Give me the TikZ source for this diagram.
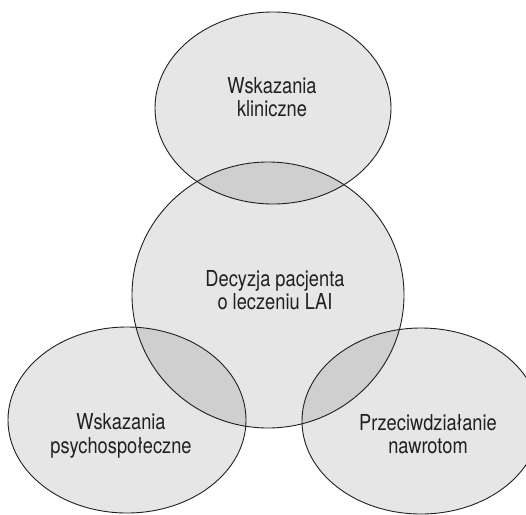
\documentclass[tikz,border=0pt]{standalone}
\usepackage{fontspec}
\setmainfont{TeX Gyre Heros}
\newfontfamily\labelfont[FakeStretch=0.83]{TeX Gyre Heros}
\usetikzlibrary{shapes.geometric,positioning}
\definecolor{txtgray}{HTML}{231F20}

\begin{document}
\begin{tikzpicture}[
    x=1pt, y=-1pt,
    area/.style={ellipse, draw=txtgray, line width=0.9pt, fill=black, fill opacity=0.098, inner sep=0pt},
    label/.style={text=txtgray, align=center, font=\labelfont\fontsize{22}{23.5}\selectfont}
]
\useasboundingbox[fill=white] (0,0) rectangle (526,514);

% Areas
\node[area, minimum width=236, minimum height=192] (clin) at (273,108) {};
\node[area, minimum width=272, minimum height=266] (dec) at (268,295) {};
\node[area, minimum width=238, minimum height=186] (psych) at (127,420) {};
\node[area, minimum width=238, minimum height=186] (relapse) at (421,421) {};

% Labels
\node[label] (clintxt) at (272,97) {Wskazania\\kliniczne};
\node[label] (dectxt) at (275,290) {Decyzja pacjenta\\o leczeniu LAI};
\node[label] (psychtxt) at (121,436) {Wskazania\\psychospołeczne};
\node[label] (relapsetxt) at (428,434) {Przeciwdziałanie\\nawrotom};

\end{tikzpicture}
\end{document}
